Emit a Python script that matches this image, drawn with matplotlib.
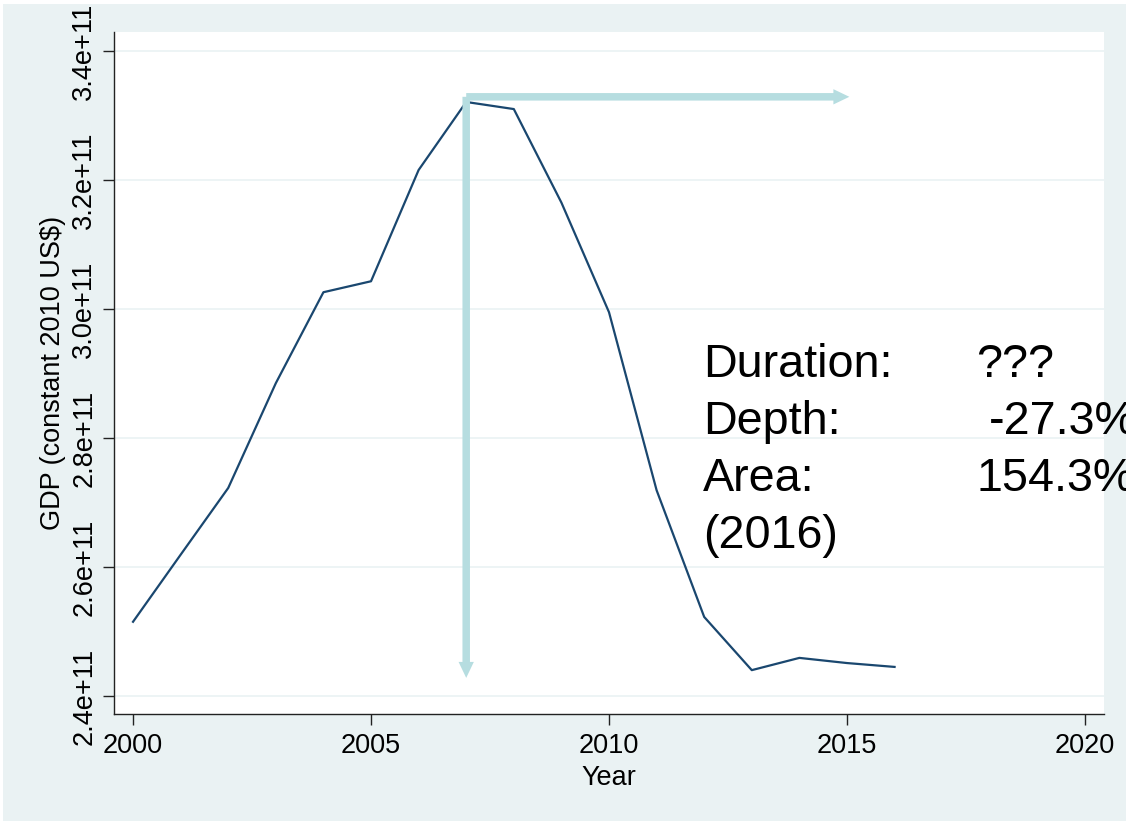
import matplotlib.pyplot as plt
from matplotlib.patches import Rectangle
from matplotlib.ticker import FuncFormatter

# GDP series (constant 2010 US$)
years = [2000, 2001, 2002, 2003, 2004, 2005, 2006, 2007, 2008,
         2009, 2010, 2011, 2012, 2013, 2014, 2015, 2016]
gdp = [2.515e11, 2.619e11, 2.7225e11, 2.885e11, 3.026e11, 3.043e11, 3.2155e11, 3.321e11, 3.310e11,
       3.165e11, 2.995e11, 2.719e11, 2.5225e11, 2.440e11, 2.459e11, 2.451e11, 2.445e11]

x_ticks = [2000, 2005, 2010, 2015, 2020]
y_ticks = [2.4e11, 2.6e11, 2.8e11, 3.0e11, 3.2e11, 3.4e11]

# annotation arrows: start at the peak, go right to 2015 and down to the floor
peak_year = 2007
arrow_level = 3.329e11
arrow_right_end = 2015.05
arrow_bottom_end = 2.428e11

stat_labels = ["Duration:", "Depth:", "Area:", "(2016)"]
stat_values = ["???", "-27.3%", "154.3%", ""]

bg = "#EAF2F3"
navy = "#1A476F"
arrow_col = "#B6DDE0"
font = ["Liberation Sans", "DejaVu Sans"]

plt.rcParams['font.family'] = font

fig = plt.figure(figsize=(11.26, 8.23), dpi=100)
fig.patch.set_facecolor("white")
fig.patches.append(Rectangle((3 / 1126, 2 / 823), 1, 817 / 823, transform=fig.transFigure,
                             facecolor=bg, edgecolor="none", zorder=-10))

ax = fig.add_axes([114 / 1126, 109 / 823, 990 / 1126, 682 / 823])
ax.set_facecolor("white")

ax.plot(years, gdp, color=navy, lw=1.6, zorder=3)

# arrows (drawn above the line, as in the original)
arrow_style = "simple,head_length=11.5,head_width=11,tail_width=5.4"
ax.annotate("", xy=(arrow_right_end, arrow_level), xytext=(peak_year, arrow_level),
            arrowprops=dict(arrowstyle=arrow_style, mutation_scale=1, color=arrow_col,
                            lw=0, shrinkA=0, shrinkB=0), zorder=4)
ax.annotate("", xy=(peak_year, arrow_bottom_end), xytext=(peak_year, arrow_level),
            arrowprops=dict(arrowstyle=arrow_style, mutation_scale=1, color=arrow_col,
                            lw=0, shrinkA=0, shrinkB=0), zorder=4)

ax.set_xlim(1999.6, 2020.4)
ax.set_ylim(2.372e11, 3.4295e11)
ax.set_xticks(x_ticks)
ax.set_yticks(y_ticks)
ax.yaxis.set_major_formatter(FuncFormatter(lambda v, p: f"{v:.1e}"))

ax.grid(axis="y", color=bg, lw=1.2, zorder=0)
ax.set_axisbelow(True)
for s in ["top", "right"]:
    ax.spines[s].set_visible(False)
for s in ["left", "bottom"]:
    ax.spines[s].set_color("#222222")
    ax.spines[s].set_linewidth(1.0)

ax.tick_params(axis="both", length=8, width=1.0, color="#222222", labelsize=19.5)
ax.tick_params(axis="x", pad=6)
ax.tick_params(axis="y", pad=4)
for lab in ax.get_yticklabels():
    lab.set_rotation(90)
    lab.set_va("center")

ax.set_xlabel("Year", fontsize=19.5, labelpad=4)
ax.set_ylabel("GDP (constant 2010 US$)", fontsize=19.5, labelpad=4)

# summary text block
row_y = [0.494, 0.4106, 0.327, 0.2434]
value_x = [0.8707, 0.8838, 0.8717, 0.8717]
for i in range(len(stat_labels)):
    ax.text(0.595, row_y[i], stat_labels[i], transform=ax.transAxes, fontsize=33.7,
            va="baseline", ha="left", clip_on=False, zorder=5)
    if stat_values[i]:
        ax.text(value_x[i], row_y[i], stat_values[i], transform=ax.transAxes, fontsize=33.7,
                va="baseline", ha="left", clip_on=False, zorder=5)

fig.savefig("out.png", dpi=100, facecolor=fig.get_facecolor())
